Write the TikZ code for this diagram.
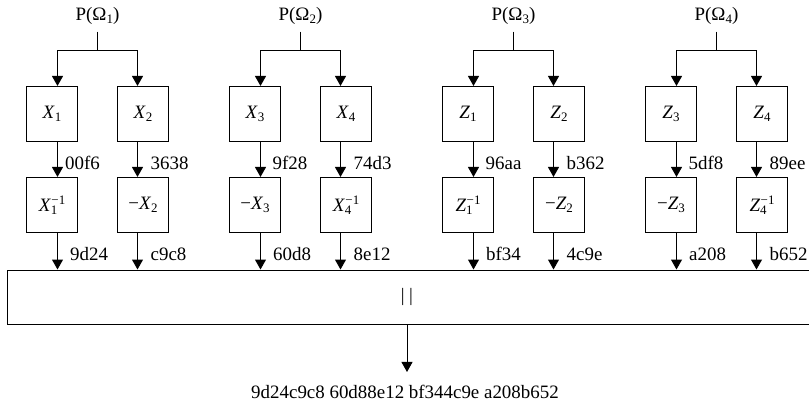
\documentclass[tikz,border=0pt]{standalone}
\usepackage{fontspec}
\setmainfont{Liberation Serif}
\usetikzlibrary{arrows.meta}
\newcommand\mySm[1]{{\fontsize{13}{13}\selectfont #1}}
\newcommand\mySub[2]{\textit{#1}\raisebox{-2.5bp}{\mySm{#2}}}
\newcommand\myInv[2]{\textit{#1}\rlap{\raisebox{-2.5bp}{\mySm{#2}}}\kern0.5bp\raisebox{7bp}{\mySm{−1}}}
\newcommand\myNeg[2]{−\textit{#1}\raisebox{-2.5bp}{\mySm{#2}}}
\begin{document}
\begin{tikzpicture}[x=1bp,y=-1bp,
  every node/.style={font=\fontsize{19}{22}\selectfont, text=black},
  box/.style={draw, line width=1.1bp, minimum width=51bp, minimum height=55bp, inner sep=0pt},
  conn/.style={line width=1bp},
  arr/.style={conn, -{Triangle[width=11bp,length=10bp]}},
  lbl/.style={anchor=base west, inner sep=0pt}]
\useasboundingbox (0,0) rectangle (809,408);
\node[draw, line width=1.1bp, anchor=north west, minimum width=830bp, minimum height=54bp, inner sep=0pt] (big) at (6.5,269.5) {};
\node (bars) at (407,297) {|\kern4.5bp|};
\node[anchor=base, inner sep=0pt, outer ysep=13bp] (out) at (405,398.3) {9d24c9c8 60d88e12 bf344c9e a208b652};
\draw[arr] (bars |- big.south) -- (bars |- out.north);
\foreach \g/\L/\ta/\tb/\ba/\bb/\ua/\ub/\la/\lb/\off in {
  1/26.5/{\mySub{X}{1}}/{\mySub{X}{2}}/{\myInv{X}{1}}/{\myNeg{X}{2}}/00f6/3638/9d24/c9c8/7.5,
  2/229.5/{\mySub{X}{3}}/{\mySub{X}{4}}/{\myNeg{X}{3}}/{\myInv{X}{4}}/9f28/74d3/60d8/8e12/12,
  3/442.5/{\mySub{Z}{1}}/{\mySub{Z}{2}}/{\myInv{Z}{1}}/{\myNeg{Z}{2}}/96aa/b362/bf34/4c9e/12,
  4/645.5/{\mySub{Z}{3}}/{\mySub{Z}{4}}/{\myNeg{Z}{3}}/{\myInv{Z}{4}}/5df8/89ee/a208/b652/12}{
  \node[anchor=base] (p\g) at (\L+71,20.7) {P(Ω\raisebox{-2.5bp}{\mySm{\g}})};
  \coordinate (s\g) at (\L+71,31.7);
  \coordinate (j\g) at (\L+71,50.5);
  \coordinate (xa\g) at (\L+31,50.5);
  \coordinate (xb\g) at (\L+111,50.5);
  \node[box] (ua\g) at (\L+25.5,114) {\ta};
  \node[box] (ub\g) at (\L+116.5,114) {\tb};
  \node[box] (la\g) at (\L+25.5,205) {\ba};
  \node[box] (lb\g) at (\L+116.5,205) {\bb};
  \draw[conn] (s\g) -- (j\g);
  \draw[arr] (j\g) -| (xa\g |- ua\g.north);
  \draw[arr] (j\g) -| (xb\g |- ub\g.north);
  \draw[arr] (xa\g |- ua\g.south) -- (xa\g |- la\g.north);
  \draw[arr] (xb\g |- ub\g.south) -- (xb\g |- lb\g.north);
  \draw[arr] (xa\g |- la\g.south) -- (xa\g |- big.north);
  \draw[arr] (xb\g |- lb\g.south) -- (xb\g |- big.north);
  \node[lbl] (ma\g) at (\L+31+\off,169.3) {\ua};
  \node[lbl] (mb\g) at (\L+111+13,169.3) {\ub};
  \node[lbl] (na\g) at (\L+31+12.5,260.7) {\la};
  \node[lbl] (nb\g) at (\L+111+13,260.7) {\lb};
}
\end{tikzpicture}
\end{document}
